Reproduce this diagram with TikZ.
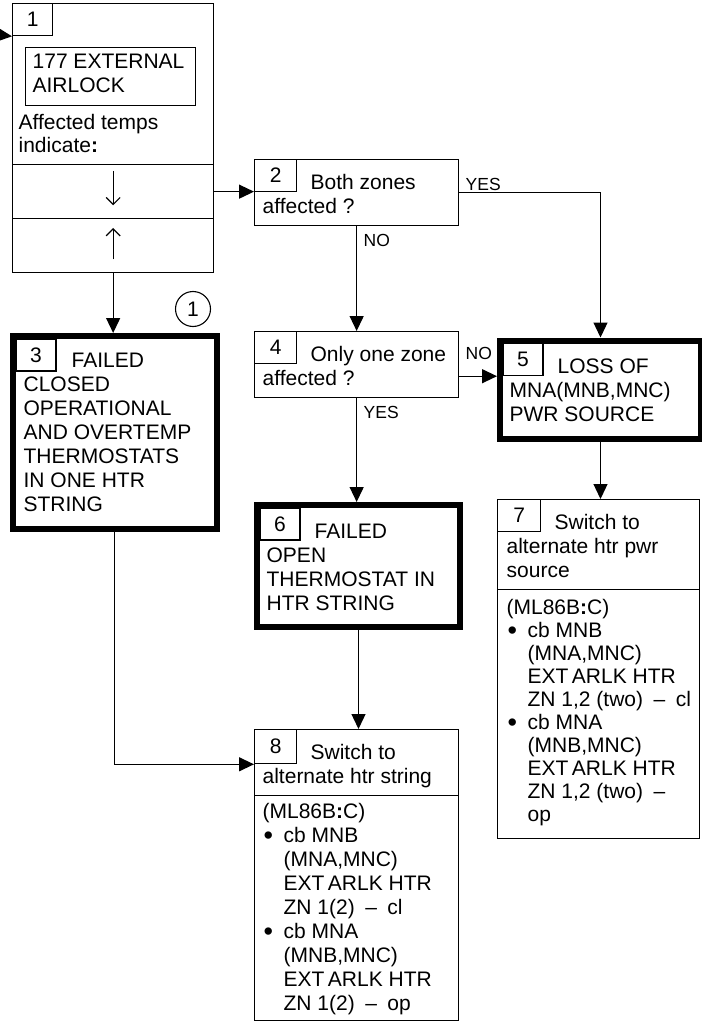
\documentclass[tikz,border=0pt]{standalone}
\usepackage{fontspec}
\setmainfont{Liberation Sans}
\usetikzlibrary{arrows.meta}
\usetikzlibrary{positioning}

\newcommand{\bigbullet}{\makebox[21pt][l]{\hspace{1pt}\raisebox{-2pt}{\fontsize{27}{24}\selectfont\textbullet}}}

\begin{document}
\begin{tikzpicture}[x=1pt, y=-1pt, line width=1.3pt,
		font=\fontsize{21}{24}\selectfont,
		box/.style={draw, rectangle, inner sep=0pt, anchor=north west},
		hbox/.style={box, line width=6pt},
		tab/.style={box, line width=1.3pt, minimum width=42pt, minimum height=32pt},
		txt/.style={inner sep=0pt, anchor=north west, align=left,
							execute at begin node=\strut},
		lbl/.style={inner sep=0pt, anchor=west, font=\fontsize{17.5}{20}\selectfont},
		arr/.style={-{Triangle[length=15pt, width=14pt]}},
		stick/.style={-{Straight Barb[length=7pt, width=14pt]}, line width=1.2pt}]

		\useasboundingbox (0,0) rectangle (701,1024);

		% box 1 with its two rows
		\node[box, minimum width=201pt, minimum height=161pt] (b1) at (12,3) {};
		\node[box, minimum width=201pt, minimum height=54pt] (b1dn) at (12,164) {};
		\node[box, minimum width=201pt, minimum height=54pt] (b1up) at (12,218) {};
		\node[tab, minimum width=40pt] (t1) at (b1.north west) {1};
		\node[box, minimum width=170pt, minimum height=58pt] (b1in) at (25,47) {};
		\node[txt] (b1intxt) at ([shift={(7,6)}]b1in.north west) {177 EXTERNAL\\AIRLOCK};
		\node[txt, font=\fontsize{21}{23}\selectfont] (b1txt) at ([shift={(6,111)}]b1.north west)
			{Affected temps\\indicate\textbf{:}};
		\draw[stick] ([yshift=-7pt]b1dn.north) -- ([yshift=14pt]b1dn.south);
		\draw[stick] ([yshift=14pt]b1up.south) -- ([yshift=-10pt]b1up.north);
		\coordinate (in1) at (0,35);

		% middle column
		\node[box, minimum width=204pt, minimum height=66pt] (b2) at (254,159) {};
		\node[tab] (t2) at (b2.north west) {2};
		\node[txt] (b2txt) at ([shift={(8,15)}]b2.north west) {\hspace*{48pt}Both zones\\affected ?};

		\node[box, minimum width=204pt, minimum height=66pt] (b4) at (254,331) {};
		\node[tab] (t4) at (b4.north west) {4};
		\node[txt] (b4txt) at ([shift={(8,15)}]b4.north west) {\hspace*{48pt}Only one zone\\affected ?};

		\node[hbox, minimum width=203pt, minimum height=122pt] (b6) at (254,502) {};
		\node[tab, minimum width=40pt] (t6) at ([shift={(5.4,5.4)}]b6.north west) {6};
		\node[txt] (b6txt) at ([shift={(12,21)}]b6.north west)
			{\hspace*{48pt}FAILED\\OPEN\\THERMOSTAT IN\\HTR STRING};

		\node[box, minimum width=204pt, minimum height=66pt] (b8) at (254,729) {};
		\node[box, minimum width=204pt, minimum height=225pt] (b8body) at (254,795) {};
		\node[tab, minimum height=34pt] (t8) at (b8.north west) {8};
		\node[txt] (b8txt) at ([shift={(8,15)}]b8.north west) {\hspace*{48pt}Switch to\\alternate htr string};
		\node[txt] (b8list) at ([shift={(8,8)}]b8body.north west) {(ML86B\textbf{:}C)\\
			\bigbullet cb MNB\\
			\hspace*{21pt}(MNA,MNC)\\
			\hspace*{21pt}EXT\,ARLK HTR\\
			\hspace*{21pt}ZN 1(2)\enspace–\enspace cl\\
			\bigbullet cb MNA\\
			\hspace*{21pt}(MNB,MNC)\\
			\hspace*{21pt}EXT\,ARLK HTR\\
			\hspace*{21pt}ZN 1(2)\enspace–\enspace op};

		% left column
		\node[hbox, minimum width=203.5pt, minimum height=193pt] (b3) at (10,333) {};
		\node[tab, minimum width=40pt] (t3) at ([shift={(5.4,5.4)}]b3.north west) {3};
		\node[txt] (b3txt) at ([shift={(13,19)}]b3.north west)
			{\hspace*{48pt}FAILED\\CLOSED\\OPERATIONAL\\AND OVERTEMP\\THERMOSTATS\\IN ONE HTR\\STRING};
		\node[draw, circle, minimum size=35pt, inner sep=0pt, line width=1.1pt] (c1) at (193,309) {1};

		% right column
		\node[hbox, minimum width=201pt, minimum height=98.5pt] (b5) at (497,337.5) {};
		\node[tab, minimum width=40pt] (t5) at ([shift={(5.4,5.4)}]b5.north west) {5};
		\node[txt] (b5txt) at ([shift={(12,21)}]b5.north west)
			{\hspace*{48pt}LOSS OF\\MNA(MNB,MNC)\\PWR SOURCE};

		\node[box, minimum width=202pt, minimum height=90pt] (b7) at (497,499) {};
		\node[box, minimum width=202pt, minimum height=249pt] (b7body) at (497,589) {};
		\node[tab, minimum width=43pt] (t7) at (b7.north west) {7};
		\node[txt] (b7txt) at ([shift={(9,15)}]b7.north west) {\hspace*{48pt}Switch to\\alternate htr pwr\\source};
		\node[txt, font=\fontsize{21}{23}\selectfont] (b7list) at ([shift={(9,10)}]b7body.north west) {(ML86B\textbf{:}C)\\
			\bigbullet cb MNB\\
			\hspace*{21pt}(MNA,MNC)\\
			\hspace*{21pt}EXT\,ARLK HTR\\
			\hspace*{21pt}ZN 1,2 (two)\enspace–\enspace cl\\
			\bigbullet cb MNA\\
			\hspace*{21pt}(MNB,MNC)\\
			\hspace*{21pt}EXT\,ARLK HTR\\
			\hspace*{21pt}ZN 1,2 (two)\enspace–\\
			\hspace*{21pt}op};

		% connectors
		\draw[arr] (in1) -- (b1.west |- t1.south);
		\draw[arr] (b1dn.east) -- (b1dn.east -| b2.west);
		\draw[arr] (b2.east |- t2.south) -| (b5.north);
		\draw[arr] (b2.south) -- (b2.south |- b4.north);
		\draw[arr] (b4.east |- t5.south) -- (b5.west |- t5.south);
		\draw[arr] (b4.south) -- (b4.south |- b6.north);
		\draw[arr] (b6.south) -- (b6.south |- b8.north);
		\draw[arr] (b1up.south) -- (b1up.south |- b3.north);
		\draw[arr] (b3.south) |- (b8.west |- t8.south);
		\draw[arr] (b5.south) -- (b5.south |- b7.north);

		\node[lbl] (yes2) at (465,184) {YES};
		\node[lbl] (no2) at (363,240) {NO};
		\node[lbl] (no4) at (465,353) {NO};
		\node[lbl] (yes4) at (363,412) {YES};
	\end{tikzpicture}
\end{document}
